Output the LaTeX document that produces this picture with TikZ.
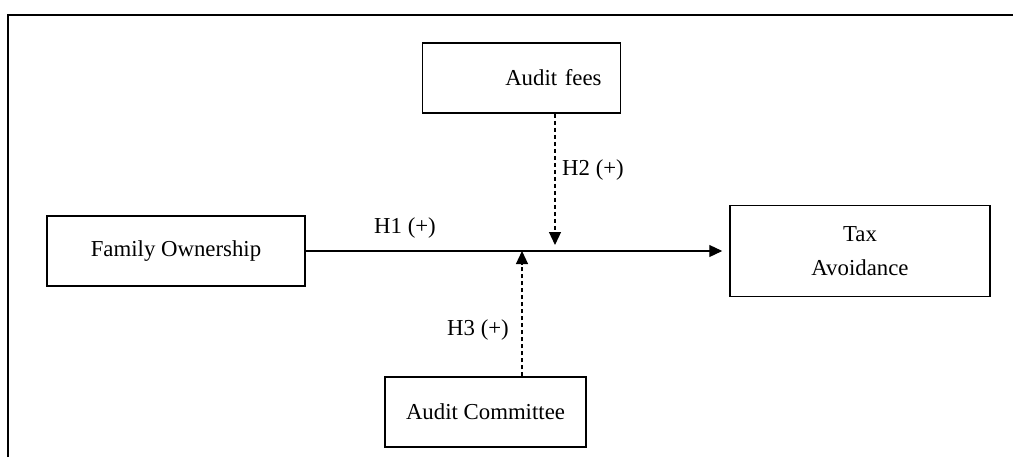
\documentclass[tikz,border=0pt]{standalone}
\usepackage{fontspec}
\setmainfont{Liberation Serif}
\usetikzlibrary{arrows.meta}
\tikzset{
	box/.style={draw, line width=0.75pt, inner sep=0pt, align=center},
	hyp/.style={-{Triangle[length=6.5pt,width=6pt]}, line width=0.6pt},
	moder/.style={hyp, dash pattern=on 2pt off 1.5pt}
}
\begin{document}
\begin{tikzpicture}[x=0.5pt,y=0.5pt,font=\fontsize{11.4}{17}\selectfont]
		\useasboundingbox (0,0) rectangle (1013,457);
		\draw[line width=1pt] (8,0) -- (8,442) -- (1013,442);
		
		\node[box, minimum width=129pt, minimum height=35pt] (fam) at (176,206) {Family Ownership};
		\node[box, minimum width=130pt, minimum height=45.5pt] (tax) at (860,206) {Tax\\Avoidance};
		\node[box, text width=80pt, inner xsep=9.5pt, align=right, minimum height=35pt] (fees) at (521.5,379) {Audit fees};
		\node[box, minimum width=100.5pt, minimum height=35pt] (com) at (485.5,45) {Audit Committee};
		
		\coordinate (meet2) at (555,212);
		\coordinate (meet3) at (522,206);
		
		\draw[hyp, shorten >=3.5pt] (fam) -- (tax);
		\draw[moder] (fees.south -| meet2) -- (meet2);
		\draw[moder] (com.north -| meet3) -- (meet3);
		
		\node (h1) at (405,229) {H1 (+)};
		\node (h2) at (593,287) {H2 (+)};
		\node (h3) at (478,127) {H3 (+)};
		
	\end{tikzpicture}
\end{document}
